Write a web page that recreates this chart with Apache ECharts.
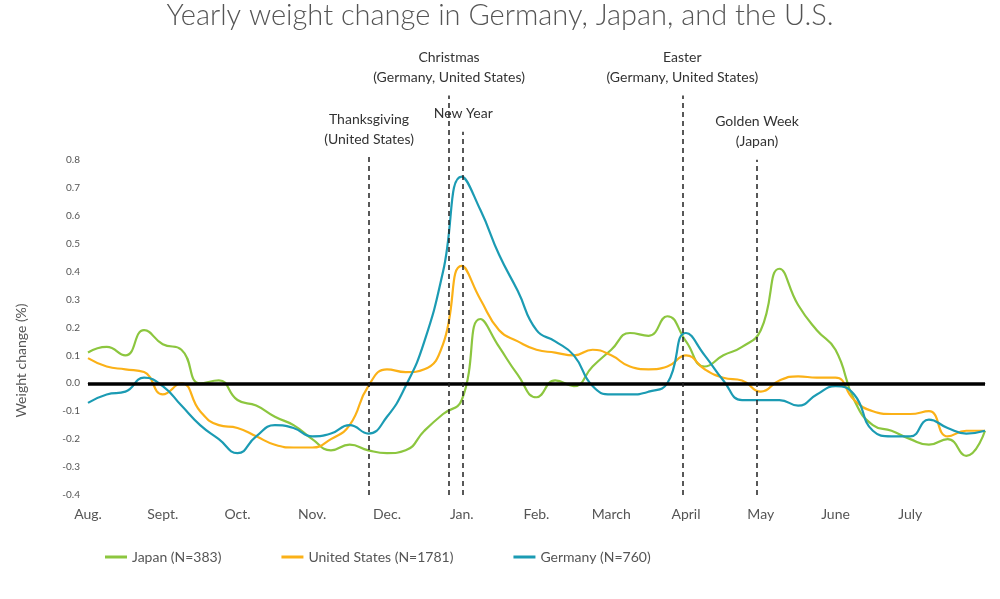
<!DOCTYPE html>
<html lang="en">
<head>
    <meta charset="UTF-8">
    <title>Yearly weight change</title>
    <style>
        body { margin: 0; background: #fff; }
        #chart { width: 1000px; height: 599px; }
    </style>
    <script src="https://cdn.jsdelivr.net/npm/echarts@6/dist/echarts.min.js"></script>
</head>
<body>
    <div id="chart"></div>
    <script>
        var months = ['Aug.', 'Sept.', 'Oct.', 'Nov.', 'Dec.', 'Jan.', 'Feb.', 'March', 'April', 'May', 'June', 'July'];
        // x positions in months since Aug. 1, one point per quarter month
        var japan = [0.11, 0.13, 0.10, 0.19, 0.14, 0.12, 0.00, 0.01, -0.06, -0.08, -0.12, -0.15, -0.20, -0.24, -0.22, -0.24,
            -0.25, -0.24, -0.17, -0.11, -0.06, 0.23, 0.13, 0.03, -0.05, 0.01, -0.01, 0.06, 0.12, 0.18, 0.17, 0.24,
            0.15, 0.06, 0.10, 0.13, 0.19, 0.41, 0.28, 0.19, 0.12, -0.06, -0.15, -0.17, -0.20, -0.22, -0.20, -0.26, -0.17];
        var usa = [0.09, 0.06, 0.05, 0.04, -0.04, 0.00, -0.10, -0.15, -0.16, -0.19, -0.22, -0.23, -0.23, -0.20, -0.15, -0.01,
            0.05, 0.04, 0.05, 0.14, 0.42, 0.30, 0.19, 0.15, 0.12, 0.11, 0.10, 0.12, 0.10, 0.06, 0.05, 0.06,
            0.10, 0.05, 0.02, 0.01, -0.03, 0.01, 0.025, 0.02, 0.02, -0.06, -0.10, -0.11, -0.11, -0.10, -0.19, -0.17, -0.17];
        var germany = [-0.07, -0.04, -0.03, 0.02, -0.01, -0.08, -0.15, -0.20, -0.25, -0.19, -0.15, -0.16, -0.19, -0.18, -0.15, -0.18,
            -0.12, -0.01, 0.15, 0.40, 0.74, 0.62, 0.46, 0.33, 0.19, 0.15, 0.10, -0.01, -0.04, -0.04, -0.03, 0.00,
            0.18, 0.10, 0.01, -0.06, -0.06, -0.06, -0.08, -0.04, -0.01, -0.04, -0.17, -0.19, -0.19, -0.13, -0.16, -0.18, -0.17];
        var holidays = [
            { name: 'Thanksgiving\n(United States)', x: 3.76, top: 0.81 },
            { name: 'Christmas\n(Germany, United States)', x: 4.83, top: 1.03 },
            { name: 'New Year', x: 5.02, top: 0.9 },
            { name: 'Easter\n(Germany, United States)', x: 7.95, top: 1.03 },
            { name: 'Golden Week\n(Japan)', x: 8.95, top: 0.8 }
        ];

        function toPoints(arr) {
            return arr.map(function (v, i) { return [i * 0.25, v]; });
        }

        function makeSeries(name, color, arr, extra) {
            var s = {
                name: name,
                type: 'line',
                smooth: true,
                showSymbol: false,
                clip: false,
                lineStyle: { color: color, width: 2.2 },
                itemStyle: { color: color },
                data: toPoints(arr)
            };
            return Object.assign(s, extra || {});
        }

        var holidayLines = holidays.map(function (h) {
            return [
                { coord: [h.x, -0.4] },
                { coord: [h.x, h.top], label: { formatter: h.name } }
            ];
        });

        echarts.init(document.getElementById('chart')).setOption({
            animation: false,
            title: {
                text: 'Yearly weight change in Germany, Japan, and the U.S.',
                left: 'center',
                top: -4,
                textStyle: { fontFamily: 'Lato', fontWeight: 300, fontSize: 29, color: '#555' }
            },
            legend: {
                bottom: 30,
                left: 100,
                itemGap: 60,
                itemWidth: 22,
                icon: 'rect',
                itemHeight: 3,
                textStyle: { fontFamily: 'Lato', fontSize: 14, color: '#555' },
                data: ['Japan (N=383)', 'United States (N=1781)', 'Germany (N=760)']
            },
            grid: { left: 88, right: 15, top: 76, bottom: 104 },
            xAxis: {
                type: 'value',
                min: 0,
                max: 12,
                interval: 1,
                axisLine: { lineStyle: { color: '#888' } },
                axisTick: { show: false },
                splitLine: { show: false },
                axisLabel: {
                    fontFamily: 'Lato', fontSize: 14, color: '#555', margin: 12,
                    formatter: function (v) { return months[v] || ''; }
                }
            },
            yAxis: {
                type: 'value',
                min: -0.4,
                max: 1.1,
                interval: 0.1,
                name: 'Weight change (%)',
                nameLocation: 'middle',
                nameGap: 60,
                nameTextStyle: { fontFamily: 'Lato', fontSize: 14, color: '#555', padding: [0, 0, 0, -150] },
                axisLine: { show: false },
                axisTick: { show: false },
                splitLine: { show: false },
                axisLabel: {
                    fontFamily: 'Lato', fontSize: 10, color: '#555',
                    formatter: function (v) { return v > 0.85 ? '' : v.toFixed(1); }
                }
            },
            series: [
                makeSeries('Japan (N=383)', '#8cc63f', japan, {
                    markLine: {
                        silent: true,
                        symbol: 'none',
                        lineStyle: { color: '#000', width: 3.5, type: 'solid' },
                        label: { show: false },
                        data: [{ yAxis: 0 }]
                    }
                }),
                makeSeries('United States (N=1781)', '#fbb117', usa),
                makeSeries('Germany (N=760)', '#1b9bb3', germany, {
                    markLine: {
                        silent: true,
                        symbol: 'none',
                        lineStyle: { color: '#222', width: 1.5, type: [5, 4] },
                        label: {
                            show: true, position: 'end', distance: 8,
                            fontFamily: 'Lato', fontSize: 14, color: '#333', lineHeight: 20
                        },
                        data: holidayLines
                    }
                })
            ]
        });
    </script>
</body>
</html>
